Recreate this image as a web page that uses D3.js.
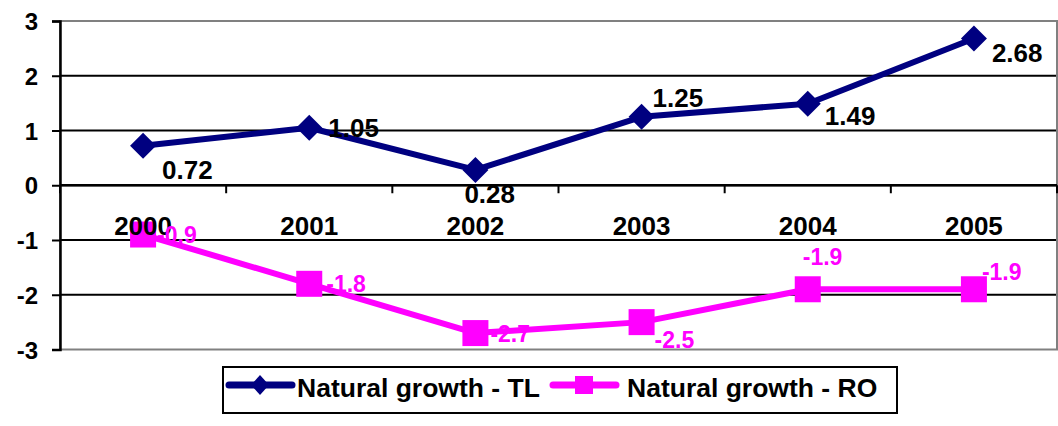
<!DOCTYPE html>
<html>
<head>
<meta charset="utf-8">
<script src="https://cdn.jsdelivr.net/npm/d3@7"></script>
<style>
  body { margin: 0; background: #fff; }
  svg text { font-family: "Liberation Sans", Arial, sans-serif; font-weight: bold; }
</style>
</head>
<body>
<svg id="chart" width="1058" height="426"></svg>
<script>
"use strict";

// data
var years = ["2000", "2001", "2002", "2003", "2004", "2005"];
var growthTL = [0.72, 1.05, 0.28, 1.25, 1.49, 2.68];
var growthRO = [-0.9, -1.8, -2.7, -2.5, -1.9, -1.9];
var yTicks = [-3, -2, -1, 0, 1, 2, 3];
var seriesNames = ["Natural growth - TL", "Natural growth - RO"];

// where each data label sits relative to its point (layout only)
var tlLabelOffset = [[19, 33], [19, 9], [-11, 33], [11, -10], [17, 21], [18, 23]];
var roLabelOffset = [[14, 8], [17, 8], [15, 9], [13, 26], [-5, -24], [8, -9]];

var navy = "#000080", magenta = "#FF00FF";

var svg = d3.select("#chart"),
  margin = {top: 21, left: 60},
  width = 997,
  height = 328.5,
  g = svg.append("g").attr("transform", "translate(" + margin.left + "," + margin.top + ")"),
  x = d3.scaleBand().domain(years).range([0, width]),
  y = d3.scaleLinear().domain([-3, 3]).range([height, 0])
;

function cx(i) { return x(years[i]) + x.bandwidth() / 2; }

// gridlines
g.append("g")
  .selectAll("line")
  .data(yTicks.filter(function(d) { return d > -3 && d < 3; }))
  .enter().append("line")
  .attr("x1", 0).attr("x2", width)
  .attr("y1", function(d) { return y(d); })
  .attr("y2", function(d) { return y(d); })
  .attr("stroke", "#000")
  .attr("stroke-width", 2);

// plot border (grey top/right/bottom)
g.append("rect")
  .attr("x", 0).attr("y", 0)
  .attr("width", width).attr("height", height)
  .attr("fill", "none")
  .attr("stroke", "#808080")
  .attr("stroke-width", 2);

// y axis
var yAxis = g.append("g")
  .call(d3.axisLeft(y).tickValues(yTicks).tickSize(8).tickPadding(14).tickFormat(function(d) { return String(d); }));
yAxis.select(".domain").attr("stroke", "#000").attr("stroke-width", 2.5);
yAxis.selectAll(".tick line").attr("stroke", "#000").attr("stroke-width", 2);
yAxis.selectAll("text").attr("font-size", 24).attr("fill", "#000").attr("dy", "0.36em")
  .style("font-family", "'Liberation Sans', Arial, sans-serif").style("font-weight", "bold");

// x axis line at zero, with ticks between categories
var xAxis = g.append("g").attr("transform", "translate(0," + y(0) + ")");
xAxis.append("line")
  .attr("x1", 0).attr("x2", width)
  .attr("stroke", "#000").attr("stroke-width", 2.5);
xAxis.selectAll(".xtick")
  .data(years.concat(["end"]))
  .enter().append("line")
  .attr("class", "xtick")
  .attr("x1", function(d, i) { return i * x.bandwidth(); })
  .attr("x2", function(d, i) { return i * x.bandwidth(); })
  .attr("y1", 0).attr("y2", 8)
  .attr("stroke", "#000").attr("stroke-width", 2);

// lines
var line = d3.line().x(function(d, i) { return cx(i); }).y(function(d) { return y(d); });

g.append("path").datum(growthTL)
  .attr("d", line).attr("fill", "none")
  .attr("stroke", navy).attr("stroke-width", 6).attr("stroke-linejoin", "round");

g.append("path").datum(growthRO)
  .attr("d", line).attr("fill", "none")
  .attr("stroke", magenta).attr("stroke-width", 6).attr("stroke-linejoin", "round");

// markers
var dia = 13;
g.selectAll(".diamond")
  .data(growthTL)
  .enter().append("path")
  .attr("class", "diamond")
  .attr("d", function(d, i) {
    var px = cx(i), py = y(d);
    return "M" + px + "," + (py - dia) + "L" + (px + dia) + "," + py + "L" + px + "," + (py + dia) + "L" + (px - dia) + "," + py + "Z";
  })
  .attr("fill", navy);

var sq = 26;
g.selectAll(".square")
  .data(growthRO)
  .enter().append("rect")
  .attr("class", "square")
  .attr("x", function(d, i) { return cx(i) - sq / 2; })
  .attr("y", function(d) { return y(d) - sq / 2; })
  .attr("width", sq).attr("height", sq)
  .attr("fill", magenta);

// category labels (drawn above the markers, as in the original)
g.selectAll(".cat")
  .data(years)
  .enter().append("text")
  .attr("class", "cat")
  .attr("x", function(d, i) { return cx(i); })
  .attr("y", y(0) + 50)
  .attr("text-anchor", "middle")
  .attr("font-size", 26)
  .attr("fill", "#000")
  .text(function(d) { return d; });

// data labels
g.selectAll(".lblTL")
  .data(growthTL)
  .enter().append("text")
  .attr("class", "lblTL")
  .attr("x", function(d, i) { return cx(i) + tlLabelOffset[i][0]; })
  .attr("y", function(d, i) { return y(d) + tlLabelOffset[i][1]; })
  .attr("font-size", 26)
  .attr("fill", "#000")
  .text(function(d) { return d; });

g.selectAll(".lblRO")
  .data(growthRO)
  .enter().append("text")
  .attr("class", "lblRO")
  .attr("x", function(d, i) { return cx(i) + roLabelOffset[i][0]; })
  .attr("y", function(d, i) { return y(d) + roLabelOffset[i][1]; })
  .attr("font-size", 23)
  .attr("fill", magenta)
  .text(function(d) { return d; });

// legend
var legend = svg.append("g").attr("transform", "translate(223,367)");
legend.append("rect")
  .attr("width", 674).attr("height", 46)
  .attr("fill", "#fff").attr("stroke", "#000").attr("stroke-width", 2);

var items = legend.selectAll(".item")
  .data(seriesNames)
  .enter().append("g")
  .attr("class", "item")
  .attr("transform", function(d, i) { return "translate(" + (6 + i * 324) + ",18)"; });

items.append("line")
  .attr("x1", 0).attr("x2", 63)
  .attr("stroke", function(d, i) { return i ? magenta : navy; })
  .attr("stroke-width", 7)
  .attr("stroke-linecap", "round");

items.append("path")
  .attr("d", function(d, i) {
    return i ? "M22,-9h18v18h-18Z" : "M31,-10L40,0L31,10L22,0Z";
  })
  .attr("fill", function(d, i) { return i ? magenta : navy; });

items.append("text")
  .attr("x", function(d, i) { return 68 + i * 6; })
  .attr("y", 12)
  .attr("font-size", 26.5)
  .attr("fill", "#000")
  .text(function(d) { return d; });
</script>
</body>
</html>
